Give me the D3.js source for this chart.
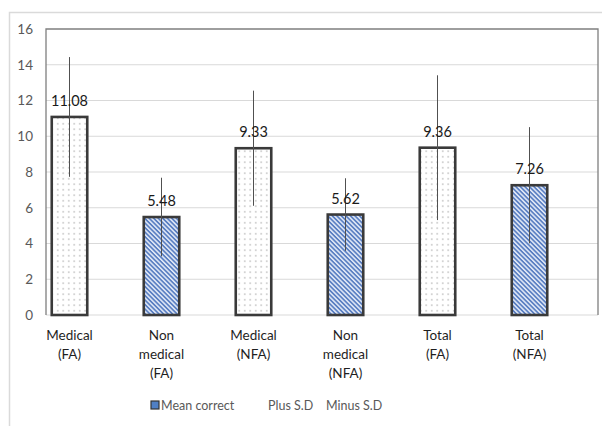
<!DOCTYPE html>
<html><head><meta charset="utf-8">
<script src="https://cdn.jsdelivr.net/npm/d3@7"></script>
<style>body{margin:0;background:#fff}svg{display:block}</style>
</head><body>
<svg id="c" width="602" height="426"></svg>
<script>
const categories = ["Medical (FA)","Non medical (FA)","Medical (NFA)","Non medical (NFA)","Total (FA)","Total (NFA)"];
const tickLabels = [["Medical","(FA)"],["Non","medical","(FA)"],["Medical","(NFA)"],["Non","medical","(NFA)"],["Total","(FA)"],["Total","(NFA)"]];
const meanCorrect = [11.08, 5.48, 9.33, 5.62, 9.36, 7.26];
const sd = [3.35, 2.2, 3.22, 2.03, 4.05, 3.25];
const patterns = ["dots","stripes","dots","stripes","dots","stripes"];
const yTicks = [0,2,4,6,8,10,12,14,16];
const legendItems = ["Mean correct","Plus S.D","Minus S.D"];

const svg = d3.select("#c");
const font = "Lato, 'Open Sans', sans-serif";
const defs = svg.append("defs");
const pd = defs.append("pattern").attr("id","dots").attr("patternUnits","userSpaceOnUse")
  .attr("width",5.5).attr("height",5.5);
pd.append("rect").attr("width",5.5).attr("height",5.5).attr("fill","#fff");
pd.append("circle").attr("cx",2.75).attr("cy",2.75).attr("r",0.65).attr("fill","#8c8c8c");
const ps = defs.append("pattern").attr("id","stripes").attr("patternUnits","userSpaceOnUse")
  .attr("width",3.2).attr("height",3.2).attr("patternTransform","rotate(45)");
ps.append("rect").attr("width",3.2).attr("height",3.2).attr("fill","#e3eaf7");
ps.append("rect").attr("width",3.2).attr("height",1.7).attr("fill","#5a7fc2");

// outer border
svg.append("rect").attr("x",9.5).attr("y",12.5).attr("width",600).attr("height",420)
  .attr("fill","none").attr("stroke","#dadada").attr("stroke-width",1.5);

const y = d3.scaleLinear().domain([0,16]).range([315,29]);
const x = d3.scaleBand().domain(categories).range([23.5,575.5]).paddingInner(0.614).paddingOuter(0.307);

// gridlines
svg.append("g").selectAll("line").data(yTicks.filter(t=>t>0&&t<16)).join("line")
  .attr("x1",46).attr("x2",598).attr("y1",d=>y(d)).attr("y2",d=>y(d))
  .attr("stroke","#d9d9d9").attr("stroke-width",1);
svg.append("line").attr("x1",46).attr("x2",598).attr("y1",y(0)).attr("y2",y(0))
  .attr("stroke","#d9d9d9").attr("stroke-width",1);
// plot frame
svg.append("path").attr("d",`M46,${y(0)}V${y(16)}H598V${y(0)}`).attr("fill","none")
  .attr("stroke","#7f7f7f").attr("stroke-width",1.3);

// y axis
const ya = svg.append("g").attr("transform","translate(46,0)")
  .call(d3.axisLeft(y).tickValues(yTicks).tickSize(0).tickPadding(13));
ya.select(".domain").remove();
ya.selectAll("text").attr("font-family",font).attr("font-size",13.5).attr("fill","#595959");

// bars
svg.append("g").selectAll("rect").data(categories).join("rect")
  .attr("x",d=>x(d)).attr("width",x.bandwidth())
  .attr("y",(d,i)=>y(meanCorrect[i])).attr("height",(d,i)=>y(0)-y(meanCorrect[i]))
  .attr("fill",(d,i)=>`url(#${patterns[i]})`).attr("stroke","#3a3a3a").attr("stroke-width",2.6);

// error bars
svg.append("g").selectAll("line").data(categories).join("line")
  .attr("x1",d=>x(d)+x.bandwidth()/2).attr("x2",d=>x(d)+x.bandwidth()/2)
  .attr("y1",(d,i)=>y(meanCorrect[i]+sd[i])).attr("y2",(d,i)=>y(meanCorrect[i]-sd[i]))
  .attr("stroke","#505050").attr("stroke-width",1);

// data labels
svg.append("g").selectAll("text").data(categories).join("text")
  .attr("x",d=>x(d)+x.bandwidth()/2).attr("y",(d,i)=>y(meanCorrect[i])-11)
  .attr("text-anchor","middle").attr("font-family",font).attr("font-size",14.5)
  .attr("fill","#1a1a1a").text((d,i)=>meanCorrect[i].toFixed(2));

// x labels
const xl = svg.append("g").selectAll("text").data(categories).join("text")
  .attr("text-anchor","middle").attr("font-family",font).attr("font-size",13.5)
  .attr("fill","#1f1f1f");
xl.each(function(d,i){
  d3.select(this).selectAll("tspan").data(tickLabels[i]).join("tspan")
    .attr("x",x(d)+x.bandwidth()/2).attr("y",(t,j)=>340+j*19).text(t=>t);
});

// legend
const lg = svg.append("g");
lg.append("rect").attr("x",151).attr("y",401).attr("width",8).attr("height",8)
  .attr("fill","#4f7fc4").attr("stroke","#333").attr("stroke-width",1.2);
const lx = [161, 268, 326];
lg.selectAll("text").data(legendItems).join("text")
  .attr("x",(d,i)=>lx[i]).attr("y",409.5).attr("font-family",font).attr("font-size",12.5)
  .attr("fill","#595959").text(d=>d);
</script>
</body></html>
